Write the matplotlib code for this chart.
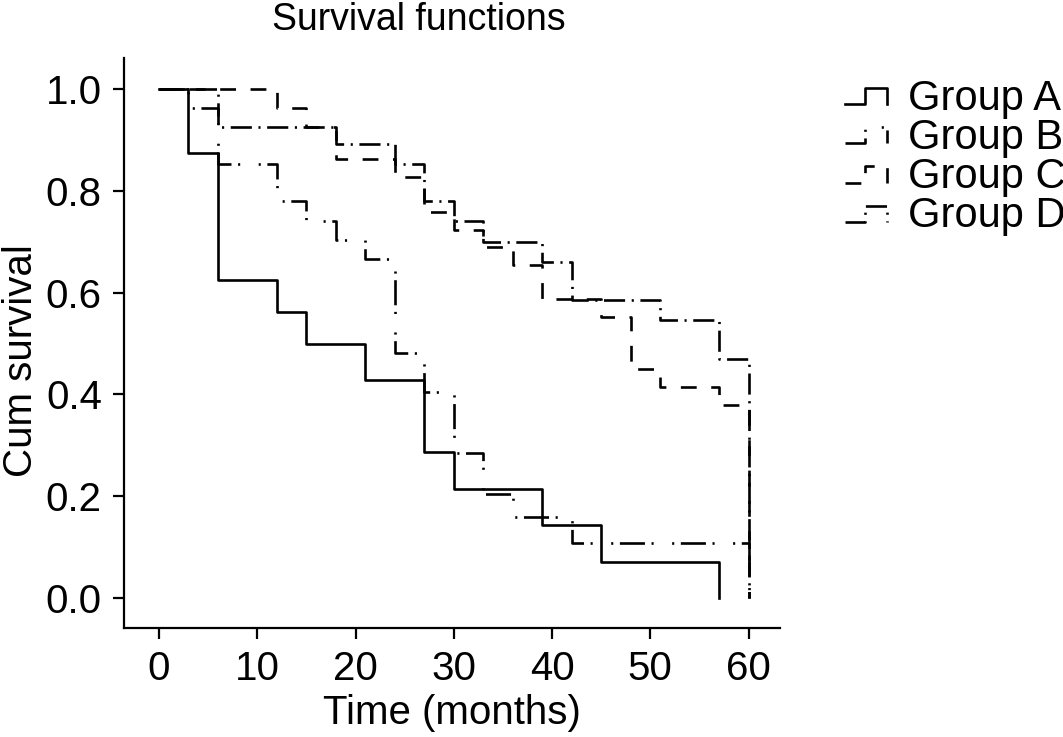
import matplotlib
matplotlib.use('Agg')
import matplotlib.pyplot as plt
from matplotlib.lines import Line2D
from matplotlib.legend_handler import HandlerLine2D

plt.rcParams['font.family'] = ['Liberation Sans', 'DejaVu Sans']

# ---- data ----
time_a = [0, 3, 6, 12, 15, 21, 27, 30, 39, 45, 57]
surv_a = [1.0, 0.875, 0.625, 0.5625, 0.5, 0.429, 0.286, 0.214, 0.143, 0.071, 0.0]

time_b = [0, 3, 6, 12, 15, 18, 21, 24, 27, 30, 33, 36, 42, 60]
surv_b = [1.0, 0.963, 0.853, 0.78, 0.74, 0.703, 0.666, 0.482, 0.405, 0.284, 0.205, 0.16, 0.108, 0.0]

time_c = [0, 12, 15, 18, 24, 27, 30, 33, 36, 39, 45, 48, 51, 57, 60]
surv_c = [1.0, 0.963, 0.926, 0.862, 0.827, 0.759, 0.724, 0.69, 0.655, 0.587, 0.553, 0.45, 0.415, 0.379, 0.0]

time_d = [0, 6, 18, 24, 27, 30, 33, 39, 42, 51, 57, 60]
surv_d = [1.0, 0.926, 0.892, 0.853, 0.78, 0.74, 0.70, 0.661, 0.585, 0.546, 0.47, 0.0]

labels = ['Group A', 'Group B', 'Group C', 'Group D']
x_ticks = [0, 10, 20, 30, 40, 50, 60]
y_ticks = [0.0, 0.2, 0.4, 0.6, 0.8, 1.0]
y_ticklabels = ['0.0', '0.2', '0.4', '0.6', '0.8', '1.0']


class StepHandler(HandlerLine2D):
    def create_artists(self, legend, orig_handle, xdescent, ydescent,
                       width, height, fontsize, trans):
        x0 = -xdescent
        y0 = -ydescent
        xs = [x0, x0 + 0.48 * width, x0 + 0.48 * width, x0 + width, x0 + width]
        ys = [y0 + 0.2 * height, y0 + 0.2 * height, y0 + 0.75 * height,
              y0 + 0.75 * height, y0 + 0.2 * height]
        line = Line2D(xs, ys)
        self.update_prop(line, orig_handle, legend)
        line.set_transform(trans)
        return [line]


W, H = 1063, 737
fig = plt.figure(figsize=(W / 100, H / 100), dpi=100)
ax = fig.add_axes([124 / W, 1 - 628 / H, (780 - 124) / W, (628 - 58) / H])

lw = 1.9
ax.step(time_a, surv_a, where='post', color='black', lw=lw, label=labels[0])
ax.step(time_b, surv_b, where='post', color='black', lw=lw, label=labels[1],
        dashes=(9.5, 2.5, 0.8, 7, 0.8, 2.5))
ax.step(time_c, surv_c, where='post', color='black', lw=lw, label=labels[2],
        dashes=(6, 5.5))
ax.step(time_d, surv_d, where='post', color='black', lw=lw, label=labels[3],
        dashes=(8, 2.5, 0.8, 2.5))

ax.set_xlim(-3.56, 63.2)
ax.set_ylim(-0.059, 1.061)
ax.spines['top'].set_visible(False)
ax.spines['right'].set_visible(False)
for sp in ['left', 'bottom']:
    ax.spines[sp].set_linewidth(1.6)
ax.set_xticks(x_ticks)
ax.set_yticks(y_ticks)
ax.set_yticklabels(y_ticklabels)
ax.tick_params(direction='out', length=8, width=1.6, labelsize=29, pad=8)
ax.set_xlabel('Time (months)', fontsize=29, labelpad=4)
ax.set_ylabel('Cum survival', fontsize=29)
ax.yaxis.set_label_coords(-0.128, 0.47)

fig.text(419 / W, 1 - 30 / H, 'Survival functions', fontsize=27,
         ha='center', va='baseline')

ax.legend(handler_map={Line2D: StepHandler()}, loc='upper left',
          bbox_to_anchor=(845 / W, 1 - 79 / H), bbox_transform=fig.transFigure,
          frameon=False, fontsize=30, handlelength=1.0, handletextpad=0.5,
          labelspacing=-0.02, borderpad=0, borderaxespad=0)

fig.savefig('out.png', dpi=100)
